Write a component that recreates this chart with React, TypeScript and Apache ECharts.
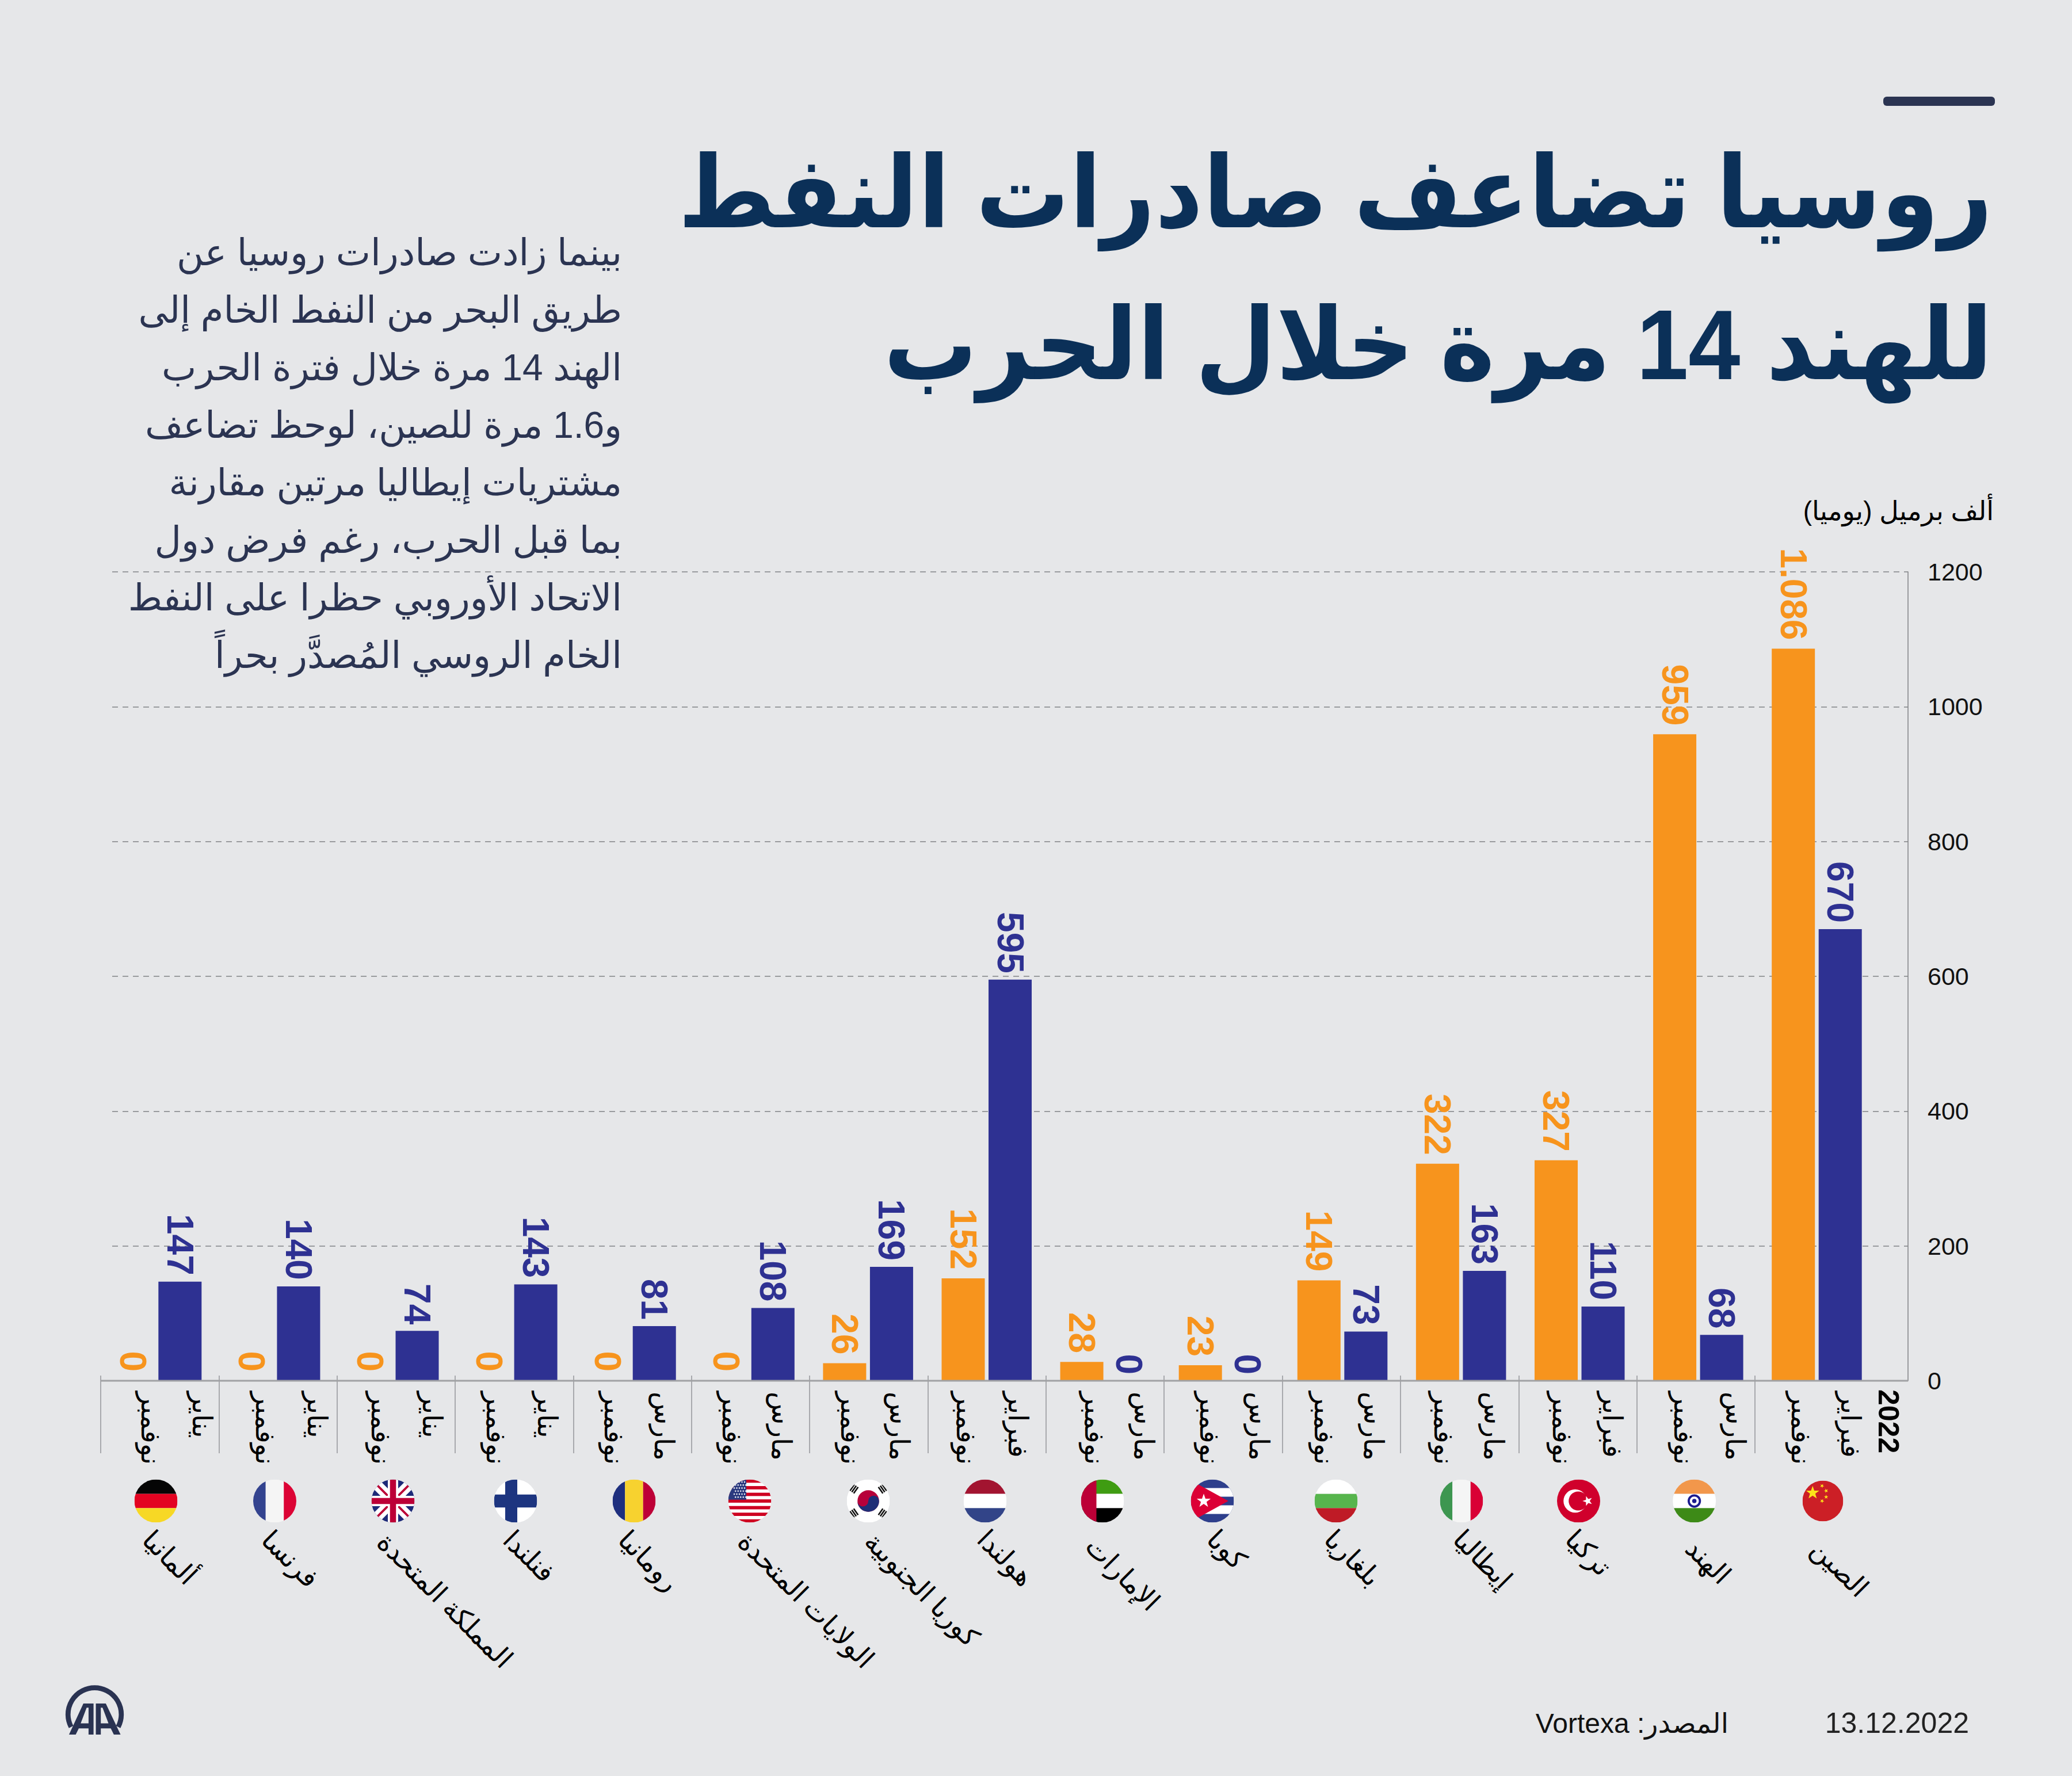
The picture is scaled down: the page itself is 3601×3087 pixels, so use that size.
import React, { useEffect, useRef } from "react";
import * as echarts from "echarts";

const countries = ["ألمانيا","فرنسا","المملكة المتحدة","فنلندا","رومانيا","الولايات المتحدة","كوريا الجنوبية","هولندا","الإمارات","كوبا","بلغاريا","إيطاليا","تركيا","الهند","الصين"];
const laterMonths = ["يناير","يناير","يناير","يناير","مارس","مارس","مارس","فبراير","مارس","مارس","مارس","مارس","فبراير","مارس","فبراير"];
const novemberLabel = "نوفمبر";
const novValues = [0,0,0,0,0,0,26,152,28,23,149,322,327,959,1086];
const laterValues = [147,140,74,143,81,108,169,595,0,0,73,163,110,68,670];
const titleLines = ["روسيا تضاعف صادرات النفط","للهند 14 مرة خلال الحرب"];
const bodyLines = [
  "بينما زادت صادرات روسيا عن",
  "طريق البحر من النفط الخام إلى",
  "الهند 14 مرة خلال فترة الحرب",
  "و1.6 مرة للصين، لوحظ تضاعف",
  "مشتريات إيطاليا مرتين مقارنة",
  "بما قبل الحرب، رغم فرض دول",
  "الاتحاد الأوروبي حظرا على النفط",
  "الخام الروسي المُصدَّر بحراً",
];
const unitLabel = "ألف برميل (يوميا)";
const sourceLabel = "المصدر: Vortexa";
const dateLabel = "13.12.2022";
const yearLabel = "2022";

// hand-placed label and flag layout of the original infographic (page pixels)
const novLabelX = [262,461,662,862,1067,1272,1478,1679,1902,2102,2301,2509,2715,2926,3130];
const monthLabelX = [351,551,751,951,1154,1358,1563,1769,1988,2188,2387,2596,2802,3016,3216];
const flagX = [271,477.5,683,896,1102,1303,1509,1712,1916,2107,2322,2540,2743.5,2944.6,3168];
const nameX = [256,463,664,883,1083,1291,1511,1707,1895,2106,2310,2534,2729,2938,3156];
const nameY = [2668,2668,2672,2668,2668,2671,2671,2667,2679,2667,2667,2667,2667,2683,2684];

const ORANGE = "#F7941D";
const BLUE = "#2E3192";
const BG = "#E6E7E9";
const NAVY = "#0B3058";
const SLATE = "#2B3452";
const AR = "'Liberation Sans', 'DejaVu Sans', sans-serif";
const LAT = "'Liberation Sans', Arial, sans-serif";
const rtl = (s: string) => "\u2067" + s + "\u2069";

const TOP = 994, BASE = 2400, H = BASE - TOP;

const star = (cx: number, cy: number, r: number, fill: string, rot = 0) => {
  const p: string[] = [];
  for (let i = 0; i < 10; i++) {
    const a = rot - Math.PI / 2 + (i * Math.PI) / 5;
    const rr = i % 2 ? r * 0.4 : r;
    p.push((cx + rr * Math.cos(a)).toFixed(2) + "," + (cy + rr * Math.sin(a)).toFixed(2));
  }
  return `<polygon points="${p.join(" ")}" fill="${fill}"/>`;
};
const rect = (x: number, y: number, w: number, h: number, f: string) => `<rect x="${x}" y="${y}" width="${w}" height="${h}" fill="${f}"/>`;
const hBands = (a: string, b: string, c: string) => rect(0,0,100,33.5,a) + rect(0,33.5,100,33,b) + rect(0,66.5,100,33.5,c);
const vBands = (a: string, b: string, c: string) => rect(0,0,29,100,a) + rect(29,0,42,100,b) + rect(71,0,29,100,c);

const usStripes = () => {
  let s = rect(0,0,100,100,"#fff");
  for (let i = 0; i < 7; i++) s += rect(0, i * 15.4, 100, 7.7, "#CE0021");
  s += rect(0,0,42,47,"#2B3A7F");
  for (let r = 0; r < 6; r++) for (let c = 0; c < 5; c++) s += `<circle cx="${14 + c * 6 + (r % 2) * 3}" cy="${6 + r * 7}" r="1.6" fill="#fff"/>`;
  return s;
};
const trigram = (x: number, y: number, deg: number) => `<g transform="translate(${x} ${y}) rotate(${deg})">${rect(-9,-7,18,3.4,"#111")}${rect(-9,-1.7,18,3.4,"#111")}${rect(-9,3.6,18,3.4,"#111")}</g>`;

const flagArt = [
  hBands("#050505","#E30321","#F7D825"),
  vBands("#33438F","#F5F5F5","#DC0435"),
  rect(0,0,100,100,"#1D2A78") + `<path d="M0 10L90 100M10 0L100 90M0 90L90 0M10 100L100 10" stroke="#fff" stroke-width="10"/><path d="M0 0L100 100M0 100L100 0" stroke="#BC0037" stroke-width="5"/>` + rect(38,0,24,100,"#fff") + rect(0,38,100,24,"#fff") + rect(43,0,14,100,"#BC0037") + rect(0,43,100,14,"#BC0037"),
  rect(0,0,100,100,"#fff") + rect(26,0,28,100,"#1D3580") + rect(0,35,100,30,"#1D3580"),
  vBands("#1E2F7E","#F7D22F","#BD0037"),
  usStripes(),
  rect(0,0,100,100,"#fff") + `<circle cx="50" cy="50" r="25" fill="#B7003A"/><path d="M25 50A25 25 0 0 0 75 50A12.5 12.5 0 0 0 50 50A12.5 12.5 0 0 1 25 50Z" fill="#1F2E77"/>` + trigram(17,22,-55) + trigram(83,22,55) + trigram(17,78,55) + trigram(83,78,-55),
  hBands("#A21430","#fff","#324488"),
  rect(0,0,100,33.5,"#3F9C12") + rect(0,33.5,100,33,"#fff") + rect(0,66.5,100,33.5,"#000") + rect(0,0,36,100,"#BC0037"),
  rect(0,0,100,100,"#2E3F8C") + rect(0,20,100,20,"#fff") + rect(0,60,100,20,"#fff") + `<polygon points="0,2 87,50 0,98" fill="#DC0035"/>` + star(30,50,17,"#fff"),
  hBands("#fff","#57B54D","#BF1B26"),
  vBands("#3D9650","#F5F5F5","#D90035"),
  rect(0,0,100,100,"#D0002C") + `<circle cx="42" cy="50" r="27" fill="#fff"/><circle cx="49" cy="50" r="22" fill="#D0002C"/>` + star(71,50,12,"#fff",-Math.PI/2),
  hBands("#F2974B","#fff","#3D8A17") + `<circle cx="50" cy="50" r="13" fill="#fff" stroke="#1B1B8F" stroke-width="5"/><circle cx="50" cy="50" r="5" fill="#1B1B8F"/>`,
  rect(0,0,100,100,"#CC1F26") + star(25,30,17,"#FCE21A") + star(48,13,5.5,"#FCE21A",0.5) + star(58,25,5.5,"#FCE21A",0.9) + star(58,40,5.5,"#FCE21A",0) + star(48,50,5.5,"#FCE21A",0.5),
];
const flagUri = (inner: string) => "data:image/svg+xml;charset=utf-8," + encodeURIComponent(
  `<svg xmlns="http://www.w3.org/2000/svg" width="100" height="100" viewBox="0 0 100 100"><defs><clipPath id="c"><circle cx="50" cy="50" r="50"/></clipPath></defs><g clip-path="url(#c)">${inner}</g></svg>`);

const logoPath =
  "M180 345L255 183L308 183L308 345L282 345L282 313L231 313L215 345Z" +
  "M282 287L282 205L272 205L241 287Z" +
  "M320 345L320 183L372 183L449 345L414 345L398 313L346 313L346 345Z" +
  "M346 287L386 287L355 205L346 205Z";
echarts.graphic.registerShape("aaLogo", echarts.graphic.extendPath(logoPath, {}));

const text = (x: number, y: number, t: string, size: number, fill: string, family: string, opts: any = {}) => ({
  type: "text", x, y, rotation: opts.rotation || 0, scaleY: opts.scaleY || 1, z: 10,
  style: { text: t, fill, fontSize: size, fontFamily: family, fontWeight: opts.weight || "normal", align: opts.align || "right", verticalAlign: "middle" },
});

const barLabel = (color: string, dx: number) => ({
  show: true, position: "top" as const, rotate: -90, align: "right", verticalAlign: "middle",
  distance: 3, offset: [dx, 0], color, fontSize: 64, fontWeight: "bold" as const, fontFamily: LAT,
  formatter: (p: any) => { const v = p.value as number; return v >= 1000 ? String(v).replace(/^(\d)(\d{3})$/, "$1.$2") : String(v); },
});

const hiddenY = (gridIndex: number) => ({ gridIndex, type: "value" as const, min: 0, max: 1200, show: false });
const gridAt = (left: number, width: number) => ({ left, width, top: TOP, height: H });
const DOWN = -Math.PI / 2;

export default function App() {
  const ref = useRef<HTMLDivElement>(null);
  useEffect(() => {
    document.body.style.margin = "0";
    document.body.style.background = BG;
    const chart = echarts.init(ref.current!, undefined, { renderer: "svg" });
    const elements: any[] = [
      { type: "rect", shape: { x: 3273, y: 168, width: 194, height: 16, r: 6 }, style: { fill: SLATE } },
      text(3463, 335, rtl(titleLines[0]), 162, NAVY, AR, { weight: "bold", scaleY: 1.07 }),
      text(3463, 599, rtl(titleLines[1]), 162, NAVY, AR, { weight: "bold", scaleY: 1.07 }),
      ...bodyLines.map((l, i) => text(1081, 439 + i * 100, rtl(l), 64, SLATE, AR)),
      text(3465, 888, rtl(unitLabel), 46, "#000", AR),
      text(3004, 2995, rtl(sourceLabel), 48, "#111", AR),
      text(3422, 2995, dateLabel, 50, "#222", LAT),
      text(3282, 2415, yearLabel, 50, "#000", LAT, { weight: "bold", align: "left", rotation: DOWN }),
      { type: "line", z: 5, shape: { x1: 175, y1: BASE, x2: 3316, y2: BASE }, style: { stroke: "#A0A1A4", lineWidth: 3 } },
      { type: "arc", shape: { cx: 164.5, cy: 2980, r: 46.3, startAngle: Math.PI * 0.845, endAngle: Math.PI * 0.155, clockwise: true }, style: { stroke: "#2A3352", lineWidth: 8.7, fill: "none" } },
      { type: "aaLogo", x: 60, y: 2900, scaleX: 1 / 3, scaleY: 1 / 3, style: { fill: "#2A3352" } },
      ...flagArt.map((art, i) => {
        const cx = flagX[i], r = i === 14 ? 35.5 : 37.5;
        return { type: "image", style: { image: flagUri(art), x: cx - r, y: 2609 - r, width: 2 * r, height: 2 * r } };
      }),
      ...novLabelX.map((x) => text(x, 2419, rtl(novemberLabel), 47, "#000", AR, { align: "left", rotation: DOWN })),
      ...laterMonths.map((m, i) => text(monthLabelX[i], 2419, rtl(m), 47, "#000", AR, { align: "left", rotation: DOWN })),
      ...countries.map((c, i) => text(nameX[i], nameY[i], rtl(c), 47, "#000", AR, { align: "left", rotation: -Math.PI / 4 })),
    ];
    chart.setOption({
      animation: false,
      backgroundColor: BG,
      grid: [gridAt(169, 3091.5), gridAt(195, 3121), gridAt(175, 2875)],
      xAxis: [
        { gridIndex: 0, type: "category", data: countries.map(rtl), show: false },
        { gridIndex: 1, type: "value", show: false, min: 0, max: 1 },
        { gridIndex: 2, type: "category", data: countries.slice(0, 14).map(() => ""), offset: -9,
          axisLine: { show: false }, axisLabel: { show: false },
          axisTick: { show: true, inside: false, length: 135, lineStyle: { color: "#939598", width: 1.5 } } },
      ],
      yAxis: [
        hiddenY(0),
        { gridIndex: 1, type: "value", position: "right", min: 0, max: 1200, interval: 200,
          axisLine: { show: true, onZero: false, lineStyle: { color: "#808285", width: 1.5 } }, axisTick: { show: false },
          axisLabel: { margin: 34, fontSize: 43, fontFamily: LAT, color: "#111", formatter: (v: number) => String(v) },
          splitLine: { show: true, lineStyle: { color: "#808285", width: 1.5, type: [10, 8] } } },
        hiddenY(2),
      ],
      series: [
        { type: "bar", xAxisIndex: 0, yAxisIndex: 0, data: novValues, barWidth: 75, barGap: "8.7%", barMinHeight: 1, itemStyle: { color: ORANGE }, label: barLabel(ORANGE, -12) },
        { type: "bar", xAxisIndex: 0, yAxisIndex: 0, data: laterValues, barWidth: 75, barGap: "8.7%", itemStyle: { color: BLUE }, label: barLabel(BLUE, -8) },
      ],
      graphic: { elements },
    });
    return () => chart.dispose();
  }, []);
  return <div ref={ref} style={{ position: "absolute", left: 0, top: 0, width: 3601, height: 3087 }} />;
}
